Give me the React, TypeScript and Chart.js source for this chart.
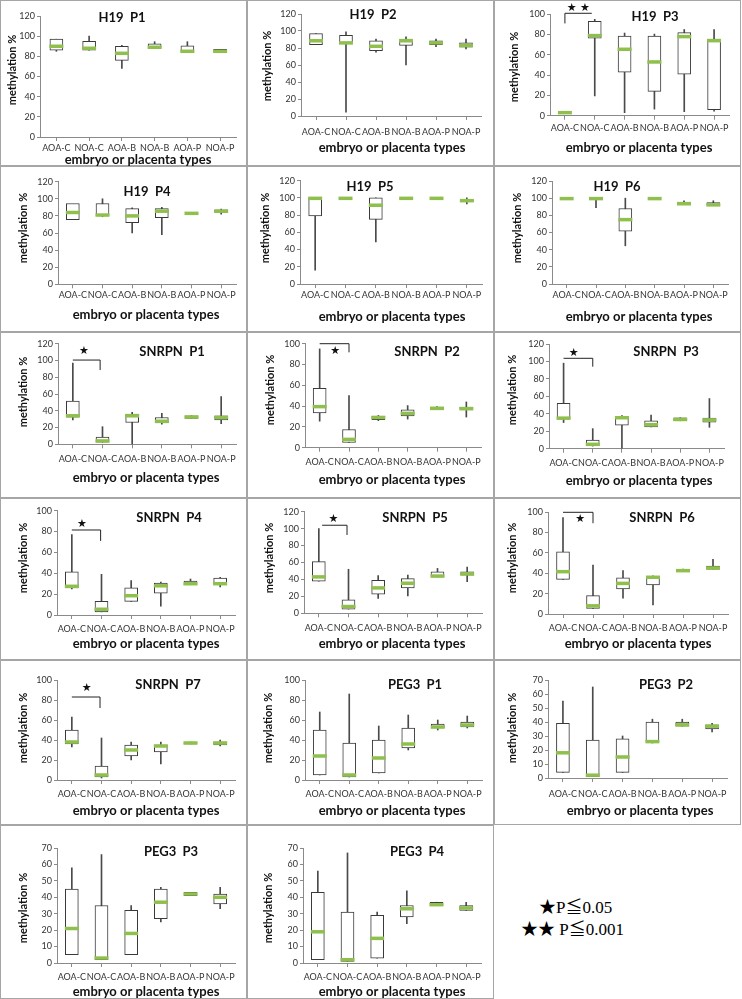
import React, { useEffect, useRef } from "react";
import { Chart, registerables } from "chart.js";
Chart.register(...registerables);

const CATEGORIES = ["AOA-C", "NOA-C", "AOA-B", "NOA-B", "AOA-P", "NOA-P"];

// each category: [min, q1, median, q3, max]  (null = not drawn)
type Stat = (number | null)[];
const H19_P1: Stat[] = [[85, 86, 90, 97, 97], [86, 86, 88, 95, 100], [68, 76, 83, 90, 91], [88, 88, 89, 92.5, 94.5], [84, 84.5, 85, 90.5, 94.5], [85, 85, 85, 87, 87]];
const H19_P2: Stat[] = [[84, 84, 88.5, 97, 97], [4.5, 85, 86, 95, 99], [75, 77, 82, 88.5, 90.5], [60, 83, 88.5, 90.5, 93], [81.5, 84, 86, 88.5, 90.5], [79, 81, 83, 86, 90.5]];
const H19_P3: Stat[] = [[null, null, 3, null, null], [19.5, 76.5, 79, 93, 95], [3, 43, 65.5, 78.5, 81.5], [6.5, 24, 53, 78.5, 80.5], [4, 41, 78, 82, 85], [4.5, 6, 74, 75.5, 85]];
const H19_P4: Stat[] = [[null, 75.5, 84, 94.5, null], [79, 80.5, 81, 94.5, 100], [60, 72, 80, 88.5, 89.5], [58, 78, 85.5, 88.5, 90], [null, null, 83, null, null], [82, 84.5, 85.5, 87, 88]];
const H19_P5: Stat[] = [[16, 79, 99.5, 100, 100], [null, null, 99.5, null, null], [49, 75, 91.5, 100, 100], [null, null, 99.5, null, null], [null, null, 99.5, null, null], [93, 96, 96.8, 97.5, 100]];
const H19_P6: Stat[] = [[null, null, 99.5, null, null], [89, null, 99.5, null, 99.5], [44.5, 61.5, 75, 88, 100], [null, null, 99.5, null, null], [93, 93, 93.5, 95.5, 97], [92, 92, 92.2, 95, 97]];
const SNRPN_P1: Stat[] = [[29, 32.5, 34, 51.5, 97], [2.5, 2.5, 4, 8.5, 21], [0, 26, 34, 36, 38], [24, 25.5, 27.5, 32, 37], [31, 31, 32.5, 34, 34], [24.5, 29, 32, 34, 57]];
const SNRPN_P2: Stat[] = [[25.5, 33.5, 39.5, 57, 95], [5, 5, 8, 17.5, 50], [26, 27, 29, 30.5, 31], [27.5, 30.5, 33, 36.5, 40.5], [36.5, 36.5, 37.8, 39, 39.5], [29.5, 37, 37.5, 39, 44]];
const SNRPN_P3: Stat[] = [[30, 34, 35, 52, 98], [3, 3.5, 5, 10, 23], [0, 27, 35.5, 36.5, 38], [25, 25, 27.5, 32, 38.5], [32, 32, 33.5, 35.5, 35.5], [24.5, 30.5, 33, 35, 57.5]];
const SNRPN_P4: Stat[] = [[25, 26, 27.5, 41.5, 77], [3, 3, 5.5, 13, 39], [13, 13, 18.5, 26, 33], [8.5, 21, 28, 30.5, 31.5], [29, 29, 30, 32.5, 34.5], [27, 29.5, 30, 35.5, 36]];
const SNRPN_P5: Stat[] = [[38, 38, 43, 61, 100], [5, 5, 8, 16, 52], [17.5, 22.5, 30, 39, 44.5], [20.5, 30, 35.5, 41, 45], [43, 43, 44, 49, 53], [37.5, 45, 46.5, 49, 54.5]];
const SNRPN_P6: Stat[] = [[34, 34, 41.5, 61, 94.5], [5.5, 5.5, 8, 18, 48], [15.5, 24.5, 30, 35.5, 42.5], [9, 28.5, 36, 36.5, 37.5], [42, 42, 42.5, 43.5, 44], [44, 44, 45, 47, 53.5]];
const SNRPN_P7: Stat[] = [[33, 36, 38, 50, 63], [2, 3, 5, 14, 42], [20, 24, 30, 35, 38], [16, 28, 34, 35, 38], [36, 36, 37, 37.5, 38], [34, 35, 37, 38, 40]];
const PEG3_P1: Stat[] = [[5, 5, 24, 50, 68], [3, 3, 5, 37, 86], [7, 7, 22, 40, 54], [30, 32, 36, 52, 65], [50, 52, 53, 56, 60], [52, 53, 55, 58, 64]];
const PEG3_P2: Stat[] = [[4, 4, 18, 39, 55], [1, 1, 2, 27, 65], [4, 4, 15, 28, 30], [25, 26, 26, 40, 42], [37, 37, 38, 40, 42], [33, 35, 37, 38, 39]];
const PEG3_P3: Stat[] = [[5, 5, 21, 45, 58], [2, 2, 3, 35, 66], [5, 5, 18, 32, 35], [25, 27, 37, 45, 46], [41, 41, 42, 43, 43], [33, 36, 40, 42, 46]];
const PEG3_P4: Stat[] = [[2, 2, 19, 43, 56], [1, 1, 2, 31, 67], [3, 3, 15, 29, 31], [24, 28, 33, 35, 44], [35, 35, 35.5, 37, 37], [32, 32, 33.5, 35, 37]];

const Y_TITLE = "methylation %";
const X_TITLE = "embryo or placenta types";

type Bracket = { y: number; x0: number; x1: number; dropAt: number; dropTo: number; starX: number; starY: number; text: string };
type Panel = {
  title: string; data: Stat[]; yMax: number; yStep: number;
  box: number[]; plot: number[]; titlePos: number[]; yTitle: number[]; xTitle: number[]; labelY: number;
  bracket?: Bracket;
};

const PANELS: Panel[] = [
  { title: "H19  P1", data: H19_P1, yMax: 120, yStep: 20, box: [0, 0, 247, 166], plot: [40, 240, 16, 137], titlePos: [122, 18], yTitle: [12, 70], xTitle: [138, 160], labelY: 148 },
  { title: "H19  P2", data: H19_P2, yMax: 120, yStep: 20, box: [247, 0, 247, 166], plot: [301, 481, 14, 116], titlePos: [373, 15], yTitle: [267, 66], xTitle: [392, 148], labelY: 132 },
  { title: "H19  P3", data: H19_P3, yMax: 100, yStep: 20, box: [494, 0, 247, 166], plot: [550, 729, 14.3, 115.7], titlePos: [655, 17], yTitle: [514, 67], xTitle: [639, 148], labelY: 128,
    bracket: { y: 101, x0: 0, x1: 0.9, dropAt: 0, dropTo: 91, starX: 0.45, starY: 106, text: "★ ★" } },
  { title: "H19  P4", data: H19_P4, yMax: 120, yStep: 20, box: [0, 166, 247, 166], plot: [58, 236, 181.7, 284.3], titlePos: [147, 192], yTitle: [23, 228], xTitle: [146, 315], labelY: 295 },
  { title: "H19  P5", data: H19_P5, yMax: 120, yStep: 20, box: [247, 166, 247, 166], plot: [300, 482, 180.7, 284], titlePos: [370, 187], yTitle: [265, 228], xTitle: [392, 317], labelY: 295 },
  { title: "H19  P6", data: H19_P6, yMax: 120, yStep: 20, box: [494, 166, 247, 166], plot: [552, 728, 181, 284], titlePos: [617, 187], yTitle: [517, 228], xTitle: [639, 317], labelY: 295 },
  { title: "SNRPN  P1", data: SNRPN_P1, yMax: 120, yStep: 20, box: [0, 332, 247, 166], plot: [58, 236, 343.7, 444.3], titlePos: [172, 352], yTitle: [23, 392], xTitle: [146, 478], labelY: 459,
    bracket: { y: 100.5, x0: 0, x1: 0.92, dropAt: 1, dropTo: 88.6, starX: 0.37, starY: 111.6, text: "★" } },
  { title: "SNRPN  P2", data: SNRPN_P2, yMax: 100, yStep: 20, box: [247, 332, 247, 166], plot: [305, 481, 343.7, 447.7], titlePos: [427, 352], yTitle: [270, 390], xTitle: [392, 480], labelY: 462,
    bracket: { y: 100, x0: 0, x1: 1, dropAt: 1, dropTo: 91.7, starX: 0.53, starY: 93, text: "★" } },
  { title: "SNRPN  P3", data: SNRPN_P3, yMax: 120, yStep: 20, box: [494, 332, 247, 166], plot: [549, 724, 344, 448.7], titlePos: [666, 352], yTitle: [512, 390], xTitle: [639, 481], labelY: 463,
    bracket: { y: 103.6, x0: 0, x1: 1, dropAt: 1, dropTo: 94, starX: 0.35, starY: 110, text: "★" } },
  { title: "SNRPN  P4", data: SNRPN_P4, yMax: 100, yStep: 20, box: [0, 498, 247, 162], plot: [57, 235, 510.7, 615], titlePos: [169, 518], yTitle: [23, 558], xTitle: [146, 644], labelY: 629,
    bracket: { y: 81.5, x0: 0, x1: 0.97, dropAt: 1, dropTo: 71, starX: 0.34, starY: 87, text: "★" } },
  { title: "SNRPN  P5", data: SNRPN_P5, yMax: 120, yStep: 20, box: [247, 498, 247, 162], plot: [304, 482, 511.7, 613.3], titlePos: [415, 518], yTitle: [269, 558], xTitle: [392, 644], labelY: 628,
    bracket: { y: 104, x0: 0.11, x1: 0.95, dropAt: 1, dropTo: 92.5, starX: 0.49, starY: 111, text: "★" } },
  { title: "SNRPN  P6", data: SNRPN_P6, yMax: 100, yStep: 20, box: [494, 498, 247, 162], plot: [548, 728, 512, 614], titlePos: [662, 518], yTitle: [512, 558], xTitle: [638, 644], labelY: 628,
    bracket: { y: 99.7, x0: 0, x1: 1, dropAt: 1, dropTo: 89, starX: 0.57, starY: 93, text: "★" } },
  { title: "SNRPN  P7", data: SNRPN_P7, yMax: 100, yStep: 20, box: [0, 660, 247, 165], plot: [57, 235, 680, 780], titlePos: [168, 685], yTitle: [23, 728], xTitle: [146, 811], labelY: 794,
    bracket: { y: 83, x0: 0, x1: 0.95, dropAt: 1, dropTo: 72, starX: 0.5, starY: 92, text: "★" } },
  { title: "PEG3  P1", data: PEG3_P1, yMax: 100, yStep: 20, box: [247, 660, 247, 165], plot: [305, 482, 680, 780], titlePos: [415, 685], yTitle: [268, 728], xTitle: [392, 811], labelY: 794 },
  { title: "PEG3  P2", data: PEG3_P2, yMax: 70, yStep: 10, box: [494, 660, 247, 165], plot: [548, 727, 680, 778], titlePos: [666, 685], yTitle: [512, 728], xTitle: [640, 811], labelY: 794 },
  { title: "PEG3  P3", data: PEG3_P3, yMax: 70, yStep: 10, box: [0, 825, 247, 174], plot: [57, 235, 848, 963], titlePos: [171, 852], yTitle: [23, 908], xTitle: [146, 992], labelY: 977 },
  { title: "PEG3  P4", data: PEG3_P4, yMax: 70, yStep: 10, box: [247, 825, 247, 174], plot: [303, 481, 848, 963], titlePos: [417, 852], yTitle: [268, 908], xTitle: [392, 992], labelY: 977 },
];

const GREEN = "#8fbf4d";
const AXIS = "#8a8a8a";
const INK = "#333333";
const FONT = "Lato, 'DejaVu Sans', sans-serif";
const TICK_SIZE = 9;

function BoxPanel({ p }: { p: Panel }) {
  const ref = useRef<HTMLCanvasElement>(null);
  useEffect(() => {
    const [px, py, pw, ph] = p.box;
    const [l, r, t, b] = p.plot;
    const cl = l - px, cr = r - px, ct = t - py, cb = b - py;
    const tl = 4;
    const lh = TICK_SIZE * 1.2;
    const xPad = Math.max(0, p.labelY - b - tl - lh / 2);
    const deco = {
      id: "deco",
      afterDraw(chart: any) {
        const ctx = chart.ctx;
        const xs = chart.scales.x, ys = chart.scales.y;
        ctx.save();
        ctx.fillStyle = "#111";
        ctx.textAlign = "center";
        ctx.textBaseline = "middle";
        ctx.font = `bold 13px ${FONT}`;
        ctx.fillText(p.title, p.titlePos[0] - px, p.titlePos[1] - py);
        ctx.font = `bold 13px ${FONT}`;
        ctx.fillText(X_TITLE, p.xTitle[0] - px, p.xTitle[1] - py);
        ctx.save();
        ctx.translate(p.yTitle[0] - px, p.yTitle[1] - py);
        ctx.rotate(-Math.PI / 2);
        ctx.font = `bold 11px ${FONT}`;
        ctx.fillText(Y_TITLE, 0, 0);
        ctx.restore();
        const br = p.bracket;
        if (br) {
          const x0 = xs.getPixelForValue(br.x0), x1 = xs.getPixelForValue(br.x1);
          const yb = ys.getPixelForValue(br.y), yd = ys.getPixelForValue(br.dropTo);
          const xd = br.dropAt === 0 ? x0 : x1;
          ctx.strokeStyle = "#222";
          ctx.lineWidth = 1;
          ctx.beginPath();
          ctx.moveTo(x0, yb);
          ctx.lineTo(x1, yb);
          ctx.moveTo(xd, yb);
          ctx.lineTo(xd, yd);
          ctx.stroke();
          ctx.font = `11px 'DejaVu Sans', sans-serif`;
          ctx.fillStyle = "#111";
          ctx.fillText(br.text, xs.getPixelForValue(br.starX), ys.getPixelForValue(br.starY));
        }
        ctx.restore();
      },
    };
    const tickFont = { family: FONT, size: TICK_SIZE };
    const chart = new Chart(ref.current as HTMLCanvasElement, {
      type: "bar",
      data: {
        labels: CATEGORIES,
        datasets: [
          {
            type: "bar",
            data: p.data.map((d) => (d[0] == null || d[4] == null ? null : [d[0], d[4]])) as any,
            backgroundColor: "#4a4a4a",
            borderWidth: 0,
            barThickness: 1,
            grouped: false,
            order: 3,
            clip: false,
          } as any,
          {
            type: "bar",
            data: p.data.map((d) => (d[1] == null || d[3] == null ? null : [d[1], d[3]])) as any,
            backgroundColor: "#ffffff",
            borderColor: "#3a3a3a",
            borderWidth: 1,
            borderSkipped: false,
            barThickness: 13,
            grouped: false,
            order: 2,
            clip: false,
          } as any,
          {
            type: "line",
            data: p.data.map((d) => d[2]) as any,
            showLine: false,
            pointStyle: "line",
            pointRadius: 7,
            pointHoverRadius: 7,
            pointBorderWidth: 3.5,
            pointBorderColor: GREEN,
            pointBackgroundColor: GREEN,
            order: 1,
            clip: false,
          } as any,
        ],
      },
      options: {
        animation: false,
        responsive: false,
        devicePixelRatio: 1,
        events: [],
        layout: { padding: { left: 0, top: ct, right: pw - cr, bottom: 0 } },
        plugins: { legend: { display: false }, tooltip: { enabled: false }, title: { display: false } },
        scales: {
          x: {
            type: "category",
            offset: true,
            grid: { display: true, drawOnChartArea: false, drawTicks: true, tickLength: tl, offset: false, color: AXIS },
            border: { color: AXIS },
            ticks: { autoSkip: false, maxRotation: 0, minRotation: 0, padding: xPad, font: tickFont, color: INK },
            afterFit: (s: any) => { s.height = ph - cb; },
          },
          y: {
            min: 0,
            max: p.yMax,
            ticks: { stepSize: p.yStep, padding: 2, font: tickFont, color: INK },
            grid: { drawOnChartArea: false, drawTicks: true, tickLength: 3, color: AXIS },
            border: { color: AXIS },
            afterFit: (s: any) => { s.width = cl; },
          },
        },
      } as any,
      plugins: [deco],
    });
    return () => chart.destroy();
  }, [p]);
  const [px, py, pw, ph] = p.box;
  return (
    <>
      <div style={{ position: "absolute", left: px, top: py, width: pw, height: ph, border: "1px solid #a6a6a6", boxSizing: "border-box" }} />
      <canvas ref={ref} width={pw} height={ph} style={{ position: "absolute", left: px, top: py, width: pw, height: ph }} />
    </>
  );
}

export default function App() {
  return (
    <div style={{ position: "absolute", left: 0, top: 0, width: 742, height: 999, background: "#fff", overflow: "hidden" }}>
      {PANELS.map((p, i) => (
        <BoxPanel key={i} p={p} />
      ))}
      <div style={{ position: "absolute", left: 539, top: 898, fontFamily: "'Liberation Serif', 'Noto Sans CJK SC', serif", fontSize: 17, lineHeight: "20px", whiteSpace: "pre", color: "#000" }}>
        ★P≦0.05
      </div>
      <div style={{ position: "absolute", left: 521, top: 920, fontFamily: "'Liberation Serif', 'Noto Sans CJK SC', serif", fontSize: 17, lineHeight: "20px", whiteSpace: "pre", color: "#000" }}>
        ★★ P≦0.001
      </div>
    </div>
  );
}
